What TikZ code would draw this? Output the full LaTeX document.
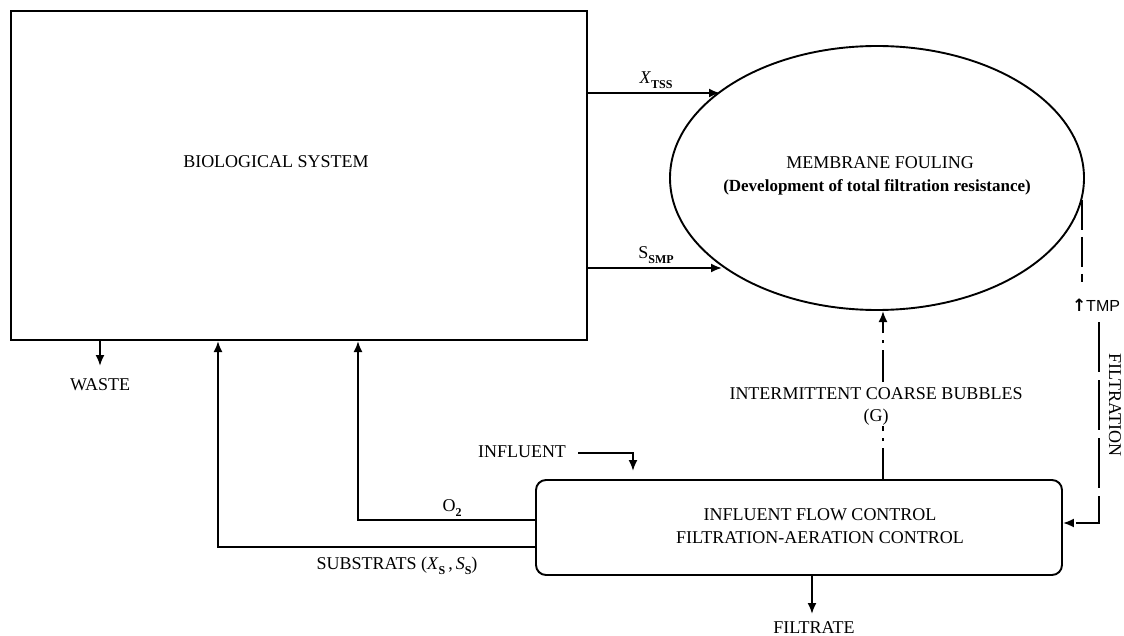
\documentclass[tikz,border=0pt]{standalone}
\usepackage{fontspec}
\setmainfont{Liberation Serif}
\newfontfamily\arialf{Liberation Sans}
\newfontfamily\djvf{DejaVu Sans}
\usetikzlibrary{arrows.meta,shapes.geometric}
\newcommand\lowsub[1]{\raisebox{-0.3em}{\fontsize{12}{12}\selectfont\bfseries #1}}
\begin{document}
\begin{tikzpicture}[x=1pt,y=-1pt,
  line width=1.9pt,
  arr/.style={-{Latex[length=11pt,width=9pt]}},
  txt/.style={font=\fontsize{18}{22}\selectfont, inner sep=0pt, align=center},
  longdash/.style={dash pattern=on 50pt off 8pt},
  dashdot/.style={dash pattern=on 32pt off 7pt on 3pt off 7pt}
]
\useasboundingbox (0,0) rectangle (1124,636);

% main shapes
\node[draw, line width=2.1pt, minimum width=576pt, minimum height=329pt, inner sep=0pt] (bio) at (299,175.5) {};
\node[txt] (biotxt) at (276,162) {BIOLOGICAL SYSTEM};

\node[draw, ellipse, line width=1.9pt, minimum width=414pt, minimum height=264pt, inner sep=0pt] (mem) at (877,178) {};
\node[txt] (memtxt1) at (880,163) {MEMBRANE FOULING};
\node[txt, font=\fontsize{17}{20}\selectfont\bfseries] (memtxt2) at (877,187) {(Development of total filtration resistance)};

\node[draw, rounded corners=10pt, line width=1.9pt, minimum width=526pt, minimum height=95pt, inner sep=0pt] (ctrl) at (799,527.5) {};
\node[txt] (ctrltxt1) at (820,515) {INFLUENT FLOW CONTROL};
\node[txt] (ctrltxt2) at (820,538) {FILTRATION-AERATION CONTROL};

% coordinates
\coordinate (xt) at (720,93);
\coordinate (sm) at (722,268);
\coordinate (o2c) at (358,520);
\coordinate (subc) at (218,547);
\coordinate (bubtop) at (883,311);
\coordinate (bubbot) at (883,480);
\coordinate (r1) at (1082,200);
\coordinate (r2) at (1082,282);
\coordinate (r3) at (1099,322);
\coordinate (r4) at (1099,523);
\coordinate (w1) at (100,340);
\coordinate (w2) at (100,366);
\coordinate (f1) at (812,575);
\coordinate (f2) at (812,614);
\coordinate (i1) at (578,453);
\coordinate (i2) at (633,453);
\coordinate (i3) at (633,471);

% X_TSS and S_SMP
\draw[arr] (bio.east |- xt) -- (xt);
\node[txt] (xlab) at (656,80) {\textit{X}\lowsub{TSS}};
\draw[arr] (bio.east |- sm) -- (sm);
\node[txt] (slab) at (656,255) {S\lowsub{SMP}};

% bubbles
\draw[arr, dashdot] (bubbot) -- (bubtop);
\node[txt, fill=white, inner sep=1pt] (bub) at (876,406) {INTERMITTENT COARSE BUBBLES\\(G)};

% TMP / filtration
\draw[dash pattern=on 30pt off 7pt] (r1) -- (r2);
\node[inner sep=0pt, font=\arialf\fontsize{16}{18}\selectfont] (tmp) at (1096,305) {{\djvf\bfseries\fontsize{17}{18}\selectfont ↑}TMP};
\draw[arr, longdash] (r3) -- (r4) -- (ctrl.east |- r4);
\node[txt, rotate=-90] (filt) at (1115,405) {FILTRATION};

% O2 and substrats
\draw[arr] (ctrl.west |- o2c) -- (o2c) -- (bio.south -| o2c);
\node[txt] (o2lab) at (452,508) {O\lowsub{2}};
\draw[arr] (ctrl.west |- subc) -- (subc) -- (bio.south -| subc);
\node[txt] (sublab) at (397,566) {SUBSTRATS (\textit{X}\lowsub{S}\,,\,\textit{S}\lowsub{S})};

% waste
\draw[arr] (w1) -- (w2);
\node[txt] (waste) at (100,385) {WASTE};

% influent
\node[txt] (infl) at (522,452) {INFLUENT};
\draw[arr] (i1) -- (i2) -- (i3);

% filtrate
\draw[arr] (f1) -- (f2);
\node[txt] (filtrate) at (814,628) {FILTRATE};
\end{tikzpicture}
\end{document}
